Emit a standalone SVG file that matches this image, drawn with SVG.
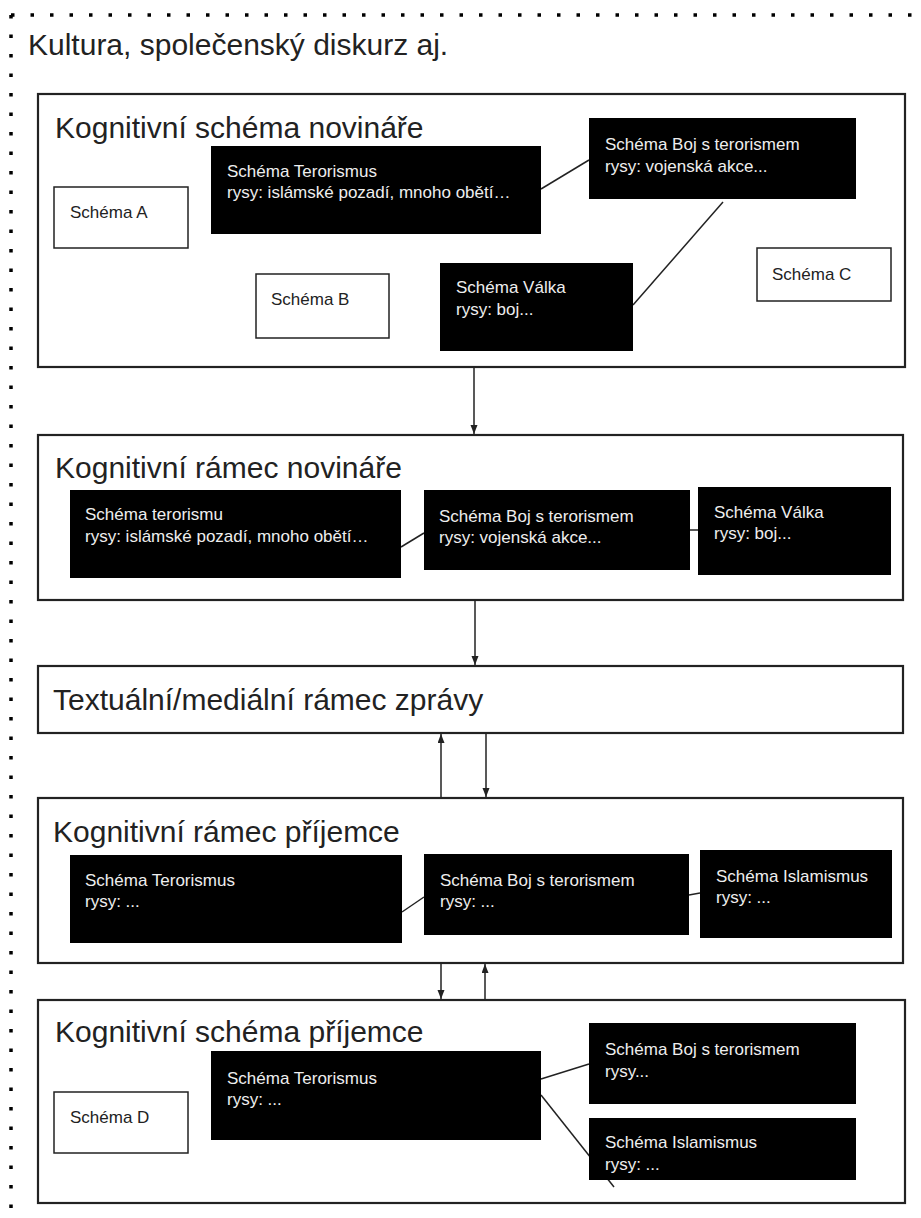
<svg xmlns="http://www.w3.org/2000/svg" width="921" height="1218" viewBox="0 0 921 1218">
<style>
.frame{fill:#fff;stroke:#222;stroke-width:2.2}
.wbox{fill:#fff;stroke:#222;stroke-width:1.5}
.bbox{fill:#000;stroke:none}
.title{font-family:"Liberation Sans",Arial,sans-serif;font-size:30px;fill:#222}
.lbl{font-family:"Liberation Sans",Arial,sans-serif;font-size:17px;fill:#222}
.wlbl{font-family:"Liberation Sans",Arial,sans-serif;font-size:17px;fill:#eee}
.conn{stroke:#222;stroke-width:1.5;fill:none}
.dots{stroke:#000;stroke-width:3.5;fill:none;stroke-dasharray:3.5 16}
</style>
<defs>
<marker id="ah" markerUnits="userSpaceOnUse" markerWidth="10" markerHeight="8" refX="9" refY="3.5" orient="auto">
<path d="M0,0 L9,3.5 L0,7 z" fill="#222"/>
</marker>
</defs>
<rect width="921" height="1218" fill="#fff"/>
<g id="culture">
<path class="dots" d="M11,15 H921 M11,15 V1218"/>
<text class="title" x="28" y="55">Kultura, společenský diskurz aj.</text>
</g>
<g id="box1"><rect class="frame" x="38" y="94" width="867" height="273"/><text class="title" x="55" y="138">Kognitivní schéma novináře</text></g>
<g id="box2"><rect class="frame" x="38" y="435" width="865" height="165"/><text class="title" x="55" y="478">Kognitivní rámec novináře</text></g>
<g id="box3"><rect class="frame" x="38" y="666" width="865" height="67"/><text class="title" x="53" y="710">Textuální/mediální rámec zprávy</text></g>
<g id="box4"><rect class="frame" x="38" y="798" width="865" height="165"/><text class="title" x="53" y="842">Kognitivní rámec příjemce</text></g>
<g id="box5"><rect class="frame" x="38" y="1000" width="867" height="203"/><text class="title" x="55" y="1042">Kognitivní schéma příjemce</text></g>
<g id="connectors">
<line class="conn" x1="474" y1="367" x2="474" y2="434" marker-end="url(#ah)"/>
<line class="conn" x1="475" y1="600" x2="475" y2="665" marker-end="url(#ah)"/>
<line class="conn" x1="441" y1="798" x2="441" y2="734" marker-end="url(#ah)"/>
<line class="conn" x1="486" y1="733" x2="486" y2="797" marker-end="url(#ah)"/>
<line class="conn" x1="441" y1="963" x2="441" y2="999" marker-end="url(#ah)"/>
<line class="conn" x1="485" y1="1000" x2="485" y2="964" marker-end="url(#ah)"/>
<line class="conn" x1="541" y1="189" x2="589" y2="160"/>
<line class="conn" x1="633" y1="305" x2="723" y2="202"/>
<line class="conn" x1="401" y1="547" x2="424" y2="533"/>
<line class="conn" x1="690" y1="530" x2="698" y2="530"/>
<line class="conn" x1="402" y1="912" x2="424" y2="897"/>
<line class="conn" x1="689" y1="895" x2="700" y2="893"/>
<line class="conn" x1="541" y1="1079" x2="589" y2="1064"/>
<line class="conn" x1="541" y1="1095" x2="614" y2="1187"/>
</g>
<g id="schemaA"><rect class="wbox" x="54" y="187" width="134" height="61"/><text class="lbl" x="70" y="218">Schéma A</text></g>
<g id="schemaB"><rect class="wbox" x="256" y="274" width="133" height="64"/><text class="lbl" x="271" y="305">Schéma B</text></g>
<g id="schemaC"><rect class="wbox" x="757" y="248" width="134" height="53"/><text class="lbl" x="772" y="280">Schéma C</text></g>
<g id="n1-terorismus"><rect class="bbox" x="211" y="146" width="330" height="88"/><text class="wlbl" x="227" y="177">Schéma Terorismus</text><text class="wlbl" x="227" y="198">rysy: islámské pozadí, mnoho obětí…</text></g>
<g id="n1-boj"><rect class="bbox" x="589" y="118" width="267" height="81"/><text class="wlbl" x="605" y="150">Schéma Boj s terorismem</text><text class="wlbl" x="605" y="172">rysy: vojenská akce...</text></g>
<g id="n1-valka"><rect class="bbox" x="440" y="263" width="193" height="88"/><text class="wlbl" x="456" y="293">Schéma Válka</text><text class="wlbl" x="456" y="315">rysy: boj...</text></g>
<g id="n2-terorismu"><rect class="bbox" x="70" y="490" width="331" height="88"/><text class="wlbl" x="85" y="520">Schéma terorismu</text><text class="wlbl" x="85" y="542">rysy: islámské pozadí, mnoho obětí…</text></g>
<g id="n2-boj"><rect class="bbox" x="424" y="490" width="266" height="80"/><text class="wlbl" x="439" y="522">Schéma Boj s terorismem</text><text class="wlbl" x="439" y="543">rysy: vojenská akce...</text></g>
<g id="n2-valka"><rect class="bbox" x="698" y="487" width="193" height="88"/><text class="wlbl" x="714" y="518">Schéma Válka</text><text class="wlbl" x="714" y="539">rysy: boj...</text></g>
<g id="n4-terorismus"><rect class="bbox" x="70" y="855" width="332" height="88"/><text class="wlbl" x="85" y="886">Schéma Terorismus</text><text class="wlbl" x="85" y="907">rysy: ...</text></g>
<g id="n4-boj"><rect class="bbox" x="424" y="854" width="265" height="81"/><text class="wlbl" x="440" y="886">Schéma Boj s terorismem</text><text class="wlbl" x="440" y="907">rysy: ...</text></g>
<g id="n4-islamismus"><rect class="bbox" x="700" y="850" width="192" height="88"/><text class="wlbl" x="716" y="882">Schéma Islamismus</text><text class="wlbl" x="716" y="903">rysy: ...</text></g>
<g id="schemaD"><rect class="wbox" x="54" y="1092" width="134" height="61"/><text class="lbl" x="70" y="1123">Schéma D</text></g>
<g id="n5-terorismus"><rect class="bbox" x="211" y="1051" width="330" height="89"/><text class="wlbl" x="227" y="1084">Schéma Terorismus</text><text class="wlbl" x="227" y="1105">rysy: ...</text></g>
<g id="n5-boj"><rect class="bbox" x="589" y="1023" width="267" height="81"/><text class="wlbl" x="605" y="1055">Schéma Boj s terorismem</text><text class="wlbl" x="605" y="1077">rysy...</text></g>
<g id="n5-islamismus"><rect class="bbox" x="589" y="1118" width="267" height="62"/><text class="wlbl" x="605" y="1148">Schéma Islamismus</text><text class="wlbl" x="605" y="1170">rysy: ...</text></g>
</svg>
